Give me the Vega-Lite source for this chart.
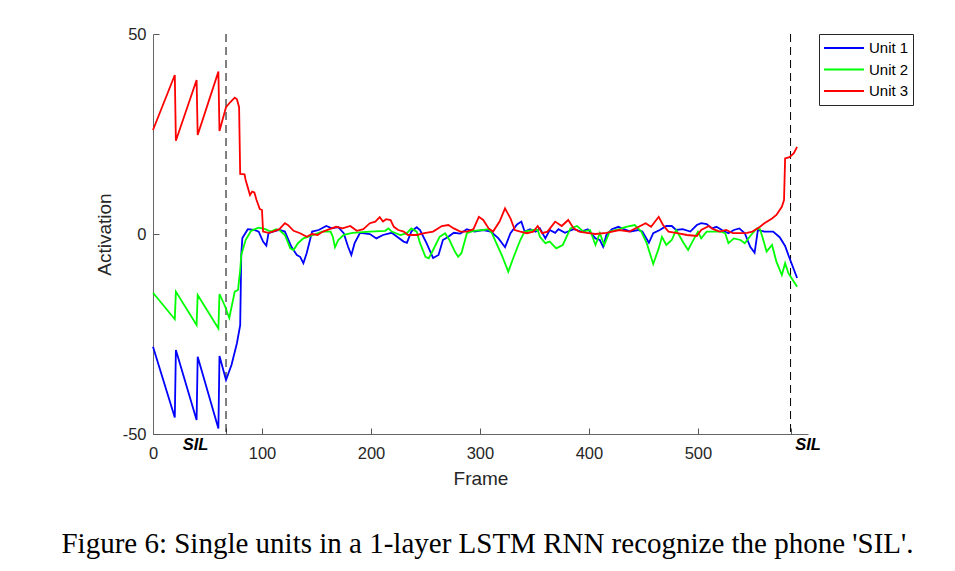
{
  "$schema": "https://vega.github.io/schema/vega-lite/v6.json",
  "width": 655,
  "height": 400,
  "autosize": "none",
  "padding": {"left": 153, "top": 34, "right": 147, "bottom": 137},
  "background": "white",
  "config": {
    "view": {"stroke": null},
    "font": "Liberation Sans",
    "axis": {
      "grid": false,
      "domainColor": "#666666",
      "tickColor": "#555555",
      "labelColor": "#262626",
      "titleColor": "#262626",
      "labelFont": "Liberation Sans",
      "titleFont": "Liberation Sans",
      "labelFontSize": 16.5,
      "titleFontSize": 19,
      "titleFontWeight": "normal",
      "labelFlush": false,
      "tickSize": -6
    },
    "legend": {
      "labelFont": "Liberation Sans",
      "labelFontSize": 15,
      "labelColor": "#000000"
    }
  },
  "title": {
    "text": "Figure 6: Single units in a 1-layer LSTM RNN recognize the phone 'SIL'.",
    "orient": "bottom",
    "anchor": "middle",
    "font": "Liberation Serif",
    "fontSize": 29,
    "fontWeight": "normal",
    "color": "#000000",
    "offset": 41,
    "dx": 7
  },
  "layer": [
    {
      "data": {"values": [{"f": 67}, {"f": 585}]},
      "mark": {"type": "rule", "color": "#000000", "strokeWidth": 1, "strokeDash": [8, 5]},
      "encoding": {
        "x": {"field": "f", "type": "quantitative"}
      }
    },
    {
      "data": {"values": [
        {"u":"Unit 1","f":0,"v":-28.2},{"u":"Unit 1","f":20,"v":-45.9},{"u":"Unit 1","f":21,"v":-29},{"u":"Unit 1","f":40,"v":-46.5},{"u":"Unit 1","f":41,"v":-30.7},{"u":"Unit 1","f":60,"v":-48.6},{"u":"Unit 1","f":61,"v":-30.5},{"u":"Unit 1","f":67,"v":-36.5},{"u":"Unit 1","f":72,"v":-32.75},{"u":"Unit 1","f":77,"v":-27.3},{"u":"Unit 1","f":80,"v":-22.8},{"u":"Unit 1","f":81,"v":-5},{"u":"Unit 1","f":82,"v":-1},{"u":"Unit 1","f":87,"v":1.2},{"u":"Unit 1","f":93,"v":1.0},{"u":"Unit 1","f":97,"v":0.6},{"u":"Unit 1","f":101,"v":-1.9},{"u":"Unit 1","f":104,"v":-2.9},{"u":"Unit 1","f":106,"v":0.2},{"u":"Unit 1","f":110,"v":0.6},{"u":"Unit 1","f":116,"v":1.0},{"u":"Unit 1","f":121,"v":0.6},{"u":"Unit 1","f":127,"v":-3.2},{"u":"Unit 1","f":132,"v":-5.25},{"u":"Unit 1","f":135,"v":-5.7},{"u":"Unit 1","f":138,"v":-7.3},{"u":"Unit 1","f":141,"v":-4.8},{"u":"Unit 1","f":146,"v":0.6},{"u":"Unit 1","f":152,"v":1.0},{"u":"Unit 1","f":159,"v":2.0},{"u":"Unit 1","f":164,"v":1.4},{"u":"Unit 1","f":170,"v":1.7},{"u":"Unit 1","f":175,"v":0.2},{"u":"Unit 1","f":179,"v":-3.2},{"u":"Unit 1","f":182,"v":-5.25},{"u":"Unit 1","f":185,"v":-2.3},{"u":"Unit 1","f":190,"v":0.3},{"u":"Unit 1","f":199,"v":0},{"u":"Unit 1","f":205,"v":-1.1},{"u":"Unit 1","f":211,"v":-0.25},{"u":"Unit 1","f":219,"v":0.3},{"u":"Unit 1","f":224,"v":-0.7},{"u":"Unit 1","f":230,"v":-1.9},{"u":"Unit 1","f":233,"v":-2.2},{"u":"Unit 1","f":237,"v":0.6},{"u":"Unit 1","f":242,"v":1.7},{"u":"Unit 1","f":245,"v":1.0},{"u":"Unit 1","f":251,"v":-2.3},{"u":"Unit 1","f":257,"v":-6},{"u":"Unit 1","f":262,"v":-5.25},{"u":"Unit 1","f":266,"v":-1.5},{"u":"Unit 1","f":271,"v":-0.7},{"u":"Unit 1","f":276,"v":0.3},{"u":"Unit 1","f":282,"v":0.1},{"u":"Unit 1","f":288,"v":1.2},{"u":"Unit 1","f":295,"v":0.6},{"u":"Unit 1","f":303,"v":1.0},{"u":"Unit 1","f":310,"v":0.6},{"u":"Unit 1","f":317,"v":-1.1},{"u":"Unit 1","f":323,"v":-3.3},{"u":"Unit 1","f":328,"v":0.2},{"u":"Unit 1","f":334,"v":2.4},{"u":"Unit 1","f":338,"v":3.1},{"u":"Unit 1","f":341,"v":0.6},{"u":"Unit 1","f":346,"v":1.2},{"u":"Unit 1","f":351,"v":0.6},{"u":"Unit 1","f":355,"v":1.4},{"u":"Unit 1","f":360,"v":-1.1},{"u":"Unit 1","f":364,"v":1.0},{"u":"Unit 1","f":369,"v":0.3},{"u":"Unit 1","f":372,"v":1.2},{"u":"Unit 1","f":378,"v":0.3},{"u":"Unit 1","f":386,"v":1.2},{"u":"Unit 1","f":393,"v":0.6},{"u":"Unit 1","f":399,"v":1.2},{"u":"Unit 1","f":406,"v":-1.1},{"u":"Unit 1","f":410,"v":-1.5},{"u":"Unit 1","f":413,"v":-3.2},{"u":"Unit 1","f":416,"v":-0.25},{"u":"Unit 1","f":421,"v":1.2},{"u":"Unit 1","f":427,"v":1.8},{"u":"Unit 1","f":432,"v":1.2},{"u":"Unit 1","f":438,"v":0.6},{"u":"Unit 1","f":445,"v":1.0},{"u":"Unit 1","f":449,"v":0.6},{"u":"Unit 1","f":455,"v":-2.2},{"u":"Unit 1","f":459,"v":0.2},{"u":"Unit 1","f":465,"v":1.0},{"u":"Unit 1","f":471,"v":2.0},{"u":"Unit 1","f":476,"v":2.0},{"u":"Unit 1","f":480,"v":1.0},{"u":"Unit 1","f":486,"v":1.2},{"u":"Unit 1","f":493,"v":0.6},{"u":"Unit 1","f":499,"v":2.25},{"u":"Unit 1","f":503,"v":2.7},{"u":"Unit 1","f":508,"v":2.5},{"u":"Unit 1","f":513,"v":1.4},{"u":"Unit 1","f":517,"v":1.8},{"u":"Unit 1","f":522,"v":1.0},{"u":"Unit 1","f":528,"v":0.2},{"u":"Unit 1","f":533,"v":1.0},{"u":"Unit 1","f":538,"v":1.4},{"u":"Unit 1","f":543,"v":0.2},{"u":"Unit 1","f":548,"v":-3.2},{"u":"Unit 1","f":552,"v":-4.7},{"u":"Unit 1","f":555,"v":1.0},{"u":"Unit 1","f":561,"v":0.6},{"u":"Unit 1","f":569,"v":0.6},{"u":"Unit 1","f":575,"v":-0.8},{"u":"Unit 1","f":580,"v":-3},{"u":"Unit 1","f":584,"v":-6},{"u":"Unit 1","f":591,"v":-11},
        {"u":"Unit 2","f":0,"v":-14.7},{"u":"Unit 2","f":20,"v":-21.3},{"u":"Unit 2","f":21,"v":-14.4},{"u":"Unit 2","f":40,"v":-22.75},{"u":"Unit 2","f":41,"v":-15.25},{"u":"Unit 2","f":60,"v":-23.6},{"u":"Unit 2","f":61,"v":-15},{"u":"Unit 2","f":66,"v":-18},{"u":"Unit 2","f":70,"v":-21},{"u":"Unit 2","f":75,"v":-14.4},{"u":"Unit 2","f":78,"v":-14},{"u":"Unit 2","f":80,"v":-9},{"u":"Unit 2","f":81,"v":-5.25},{"u":"Unit 2","f":85,"v":-1.5},{"u":"Unit 2","f":90,"v":0.8},{"u":"Unit 2","f":97,"v":1.6},{"u":"Unit 2","f":103,"v":1.2},{"u":"Unit 2","f":108,"v":0.6},{"u":"Unit 2","f":113,"v":1.2},{"u":"Unit 2","f":116,"v":1.0},{"u":"Unit 2","f":121,"v":-0.25},{"u":"Unit 2","f":126,"v":-3.6},{"u":"Unit 2","f":129,"v":-4},{"u":"Unit 2","f":133,"v":-2.3},{"u":"Unit 2","f":138,"v":-1.1},{"u":"Unit 2","f":142,"v":-0.7},{"u":"Unit 2","f":147,"v":-0.25},{"u":"Unit 2","f":155,"v":0.6},{"u":"Unit 2","f":163,"v":0.6},{"u":"Unit 2","f":165,"v":-0.7},{"u":"Unit 2","f":167,"v":-3.3},{"u":"Unit 2","f":170,"v":-1.5},{"u":"Unit 2","f":175,"v":-0.2},{"u":"Unit 2","f":183,"v":0.3},{"u":"Unit 2","f":199,"v":0.6},{"u":"Unit 2","f":213,"v":0.8},{"u":"Unit 2","f":216,"v":1.4},{"u":"Unit 2","f":219,"v":0.6},{"u":"Unit 2","f":227,"v":-0.25},{"u":"Unit 2","f":233,"v":0.2},{"u":"Unit 2","f":237,"v":1.4},{"u":"Unit 2","f":242,"v":0.6},{"u":"Unit 2","f":245,"v":-2.3},{"u":"Unit 2","f":250,"v":-5.7},{"u":"Unit 2","f":253,"v":-6.1},{"u":"Unit 2","f":257,"v":-4},{"u":"Unit 2","f":263,"v":-0.7},{"u":"Unit 2","f":268,"v":0.2},{"u":"Unit 2","f":272,"v":-1.5},{"u":"Unit 2","f":277,"v":-4.4},{"u":"Unit 2","f":280,"v":-5.7},{"u":"Unit 2","f":283,"v":-4.8},{"u":"Unit 2","f":288,"v":0.2},{"u":"Unit 2","f":294,"v":0.8},{"u":"Unit 2","f":303,"v":1.0},{"u":"Unit 2","f":308,"v":1.2},{"u":"Unit 2","f":311,"v":0.2},{"u":"Unit 2","f":315,"v":-2.3},{"u":"Unit 2","f":320,"v":-5.25},{"u":"Unit 2","f":326,"v":-9.4},{"u":"Unit 2","f":331,"v":-5.7},{"u":"Unit 2","f":337,"v":-1.5},{"u":"Unit 2","f":341,"v":0.6},{"u":"Unit 2","f":349,"v":1.0},{"u":"Unit 2","f":353,"v":1.0},{"u":"Unit 2","f":355,"v":-0.7},{"u":"Unit 2","f":360,"v":-2.3},{"u":"Unit 2","f":364,"v":-1.9},{"u":"Unit 2","f":370,"v":-3.6},{"u":"Unit 2","f":376,"v":-2.75},{"u":"Unit 2","f":383,"v":1.4},{"u":"Unit 2","f":389,"v":2.0},{"u":"Unit 2","f":395,"v":0.6},{"u":"Unit 2","f":401,"v":1.0},{"u":"Unit 2","f":406,"v":-2.75},{"u":"Unit 2","f":410,"v":0.2},{"u":"Unit 2","f":414,"v":-2.75},{"u":"Unit 2","f":419,"v":0.6},{"u":"Unit 2","f":428,"v":1.2},{"u":"Unit 2","f":434,"v":1.8},{"u":"Unit 2","f":442,"v":2.25},{"u":"Unit 2","f":448,"v":0.6},{"u":"Unit 2","f":453,"v":-2.3},{"u":"Unit 2","f":459,"v":-7.5},{"u":"Unit 2","f":464,"v":-3.6},{"u":"Unit 2","f":467,"v":-0.7},{"u":"Unit 2","f":471,"v":-2.75},{"u":"Unit 2","f":476,"v":-1.5},{"u":"Unit 2","f":480,"v":1.0},{"u":"Unit 2","f":487,"v":-2.3},{"u":"Unit 2","f":491,"v":-4},{"u":"Unit 2","f":495,"v":-1.9},{"u":"Unit 2","f":500,"v":0.6},{"u":"Unit 2","f":503,"v":-1.1},{"u":"Unit 2","f":508,"v":0.6},{"u":"Unit 2","f":521,"v":0.6},{"u":"Unit 2","f":525,"v":0.2},{"u":"Unit 2","f":528,"v":-2.3},{"u":"Unit 2","f":533,"v":-1.1},{"u":"Unit 2","f":539,"v":-1.5},{"u":"Unit 2","f":543,"v":-2.3},{"u":"Unit 2","f":548,"v":-0.5},{"u":"Unit 2","f":554,"v":1.4},{"u":"Unit 2","f":557,"v":1.2},{"u":"Unit 2","f":560,"v":-1.5},{"u":"Unit 2","f":563,"v":-4.4},{"u":"Unit 2","f":568,"v":-2.75},{"u":"Unit 2","f":572,"v":-6.9},{"u":"Unit 2","f":577,"v":-10.25},{"u":"Unit 2","f":580,"v":-7.3},{"u":"Unit 2","f":583,"v":-9.8},{"u":"Unit 2","f":587,"v":-11.5},{"u":"Unit 2","f":591,"v":-13.2},
        {"u":"Unit 3","f":0,"v":26},{"u":"Unit 3","f":20,"v":39.75},{"u":"Unit 3","f":21,"v":23.3},{"u":"Unit 3","f":40,"v":38.5},{"u":"Unit 3","f":41,"v":24.75},{"u":"Unit 3","f":60,"v":40.6},{"u":"Unit 3","f":61,"v":25.75},{"u":"Unit 3","f":67,"v":31.7},{"u":"Unit 3","f":71,"v":33},{"u":"Unit 3","f":75,"v":34.1},{"u":"Unit 3","f":77,"v":33.7},{"u":"Unit 3","f":79,"v":31.7},{"u":"Unit 3","f":80,"v":15},{"u":"Unit 3","f":84,"v":14.9},{"u":"Unit 3","f":85,"v":13.5},{"u":"Unit 3","f":89,"v":9.75},{"u":"Unit 3","f":91,"v":10.6},{"u":"Unit 3","f":93,"v":10.4},{"u":"Unit 3","f":95,"v":8.5},{"u":"Unit 3","f":98,"v":6.25},{"u":"Unit 3","f":100,"v":6},{"u":"Unit 3","f":101,"v":0.6},{"u":"Unit 3","f":106,"v":0.3},{"u":"Unit 3","f":110,"v":0.6},{"u":"Unit 3","f":116,"v":1.2},{"u":"Unit 3","f":121,"v":2.7},{"u":"Unit 3","f":124,"v":2.2},{"u":"Unit 3","f":129,"v":0.8},{"u":"Unit 3","f":135,"v":0.2},{"u":"Unit 3","f":141,"v":-0.7},{"u":"Unit 3","f":146,"v":0},{"u":"Unit 3","f":151,"v":-0.25},{"u":"Unit 3","f":156,"v":0.6},{"u":"Unit 3","f":162,"v":1.2},{"u":"Unit 3","f":168,"v":1.8},{"u":"Unit 3","f":174,"v":1.4},{"u":"Unit 3","f":181,"v":2.0},{"u":"Unit 3","f":187,"v":0.8},{"u":"Unit 3","f":193,"v":1.2},{"u":"Unit 3","f":199,"v":2.7},{"u":"Unit 3","f":204,"v":3.1},{"u":"Unit 3","f":208,"v":4.2},{"u":"Unit 3","f":211,"v":3.1},{"u":"Unit 3","f":214,"v":3.7},{"u":"Unit 3","f":218,"v":3.5},{"u":"Unit 3","f":221,"v":1.8},{"u":"Unit 3","f":225,"v":1.0},{"u":"Unit 3","f":230,"v":0.6},{"u":"Unit 3","f":234,"v":-0.25},{"u":"Unit 3","f":242,"v":-0.25},{"u":"Unit 3","f":249,"v":0.2},{"u":"Unit 3","f":257,"v":0.6},{"u":"Unit 3","f":265,"v":2.0},{"u":"Unit 3","f":271,"v":2.25},{"u":"Unit 3","f":276,"v":1.4},{"u":"Unit 3","f":282,"v":0.6},{"u":"Unit 3","f":288,"v":0.6},{"u":"Unit 3","f":294,"v":1.2},{"u":"Unit 3","f":299,"v":4.3},{"u":"Unit 3","f":303,"v":3.5},{"u":"Unit 3","f":308,"v":1.4},{"u":"Unit 3","f":312,"v":0.6},{"u":"Unit 3","f":318,"v":3.1},{"u":"Unit 3","f":323,"v":6.4},{"u":"Unit 3","f":328,"v":3.9},{"u":"Unit 3","f":332,"v":1.0},{"u":"Unit 3","f":337,"v":0.6},{"u":"Unit 3","f":343,"v":0.2},{"u":"Unit 3","f":349,"v":0.6},{"u":"Unit 3","f":353,"v":2.0},{"u":"Unit 3","f":357,"v":0.2},{"u":"Unit 3","f":362,"v":0.6},{"u":"Unit 3","f":369,"v":3.1},{"u":"Unit 3","f":375,"v":2.0},{"u":"Unit 3","f":381,"v":3.5},{"u":"Unit 3","f":386,"v":1.4},{"u":"Unit 3","f":391,"v":0.6},{"u":"Unit 3","f":398,"v":0.3},{"u":"Unit 3","f":406,"v":0},{"u":"Unit 3","f":416,"v":0.3},{"u":"Unit 3","f":428,"v":1.0},{"u":"Unit 3","f":437,"v":0.6},{"u":"Unit 3","f":452,"v":2.7},{"u":"Unit 3","f":457,"v":1.8},{"u":"Unit 3","f":464,"v":4.3},{"u":"Unit 3","f":468,"v":2.25},{"u":"Unit 3","f":473,"v":0.6},{"u":"Unit 3","f":481,"v":0.2},{"u":"Unit 3","f":490,"v":-0.25},{"u":"Unit 3","f":499,"v":-0.5},{"u":"Unit 3","f":503,"v":1.0},{"u":"Unit 3","f":510,"v":2.0},{"u":"Unit 3","f":514,"v":1.2},{"u":"Unit 3","f":520,"v":0.6},{"u":"Unit 3","f":526,"v":1.0},{"u":"Unit 3","f":532,"v":0.2},{"u":"Unit 3","f":540,"v":0.2},{"u":"Unit 3","f":545,"v":0.3},{"u":"Unit 3","f":550,"v":0.6},{"u":"Unit 3","f":557,"v":1.8},{"u":"Unit 3","f":561,"v":2.7},{"u":"Unit 3","f":568,"v":3.9},{"u":"Unit 3","f":572,"v":4.75},{"u":"Unit 3","f":577,"v":6.8},{"u":"Unit 3","f":579,"v":8.5},{"u":"Unit 3","f":580,"v":18.9},{"u":"Unit 3","f":584,"v":19.2},{"u":"Unit 3","f":588,"v":20.2},{"u":"Unit 3","f":591,"v":21.8}
      ]},
      "mark": {"type": "line", "strokeWidth": 1.8, "interpolate": "linear"},
      "encoding": {
        "x": {
          "field": "f", "type": "quantitative",
          "scale": {"domain": [0, 601], "nice": false, "zero": false},
          "axis": {
            "title": "Frame",
            "values": [0, 67, 100, 200, 300, 400, 500, 585],
            "labelExpr": "(datum.value == 67 || datum.value == 585) ? '' : datum.label",
            "labelPadding": 17,
            "titlePadding": 8
          }
        },
        "y": {
          "field": "v", "type": "quantitative",
          "scale": {"domain": [-50, 50], "nice": false},
          "axis": {
            "title": "Activation",
            "values": [-50, 0, 50],
            "labelExpr": "'' + datum.value",
            "labelPadding": 13,
            "titlePadding": 8
          }
        },
        "color": {
          "field": "u", "type": "nominal",
          "scale": {"domain": ["Unit 1", "Unit 2", "Unit 3"], "range": ["#0000ff", "#00ff00", "#ff0000"]},
          "legend": {
            "title": null,
            "orient": "none",
            "legendX": 666,
            "legendY": 0,
            "symbolType": "stroke",
            "symbolSize": 1600,
            "symbolStrokeWidth": 2,
            "clipHeight": 20,
            "strokeColor": "#262626",
            "fillColor": "white",
            "padding": 4,
            "rowPadding": 1.5,
            "labelOffset": 4
          }
        }
      }
    },
    {
      "data": {"values": [{"f": 39, "v": -52.8, "t": "SIL"}, {"f": 601, "v": -52.8, "t": "SIL"}]},
      "mark": {"type": "text", "font": "Liberation Sans", "fontSize": 16.5, "fontWeight": "bold", "fontStyle": "italic", "color": "#000000", "baseline": "middle", "align": "center"},
      "encoding": {
        "x": {"field": "f", "type": "quantitative"},
        "y": {"field": "v", "type": "quantitative"},
        "text": {"field": "t"}
      }
    }
  ]
}
